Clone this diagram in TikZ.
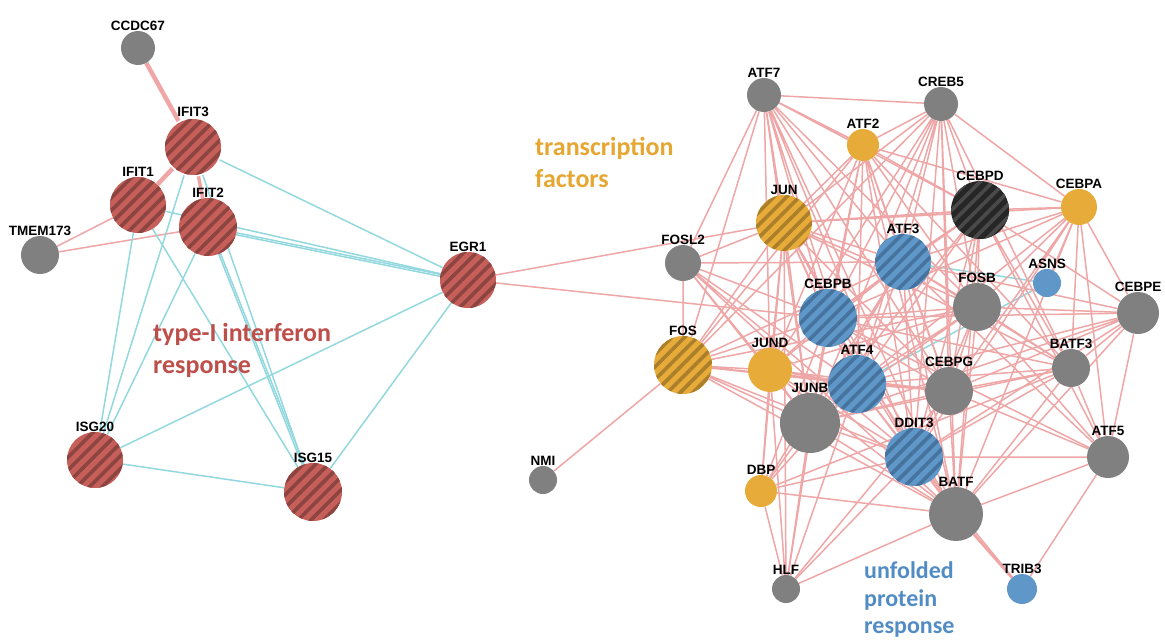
\documentclass[tikz,border=0pt]{standalone}
\usepackage{fontspec}
\setmainfont{Liberation Sans}
\newfontfamily\catfont{Carlito}
\usetikzlibrary{patterns.meta,backgrounds}

\definecolor{ifnred}{RGB}{198,95,90}
\definecolor{ifnstripe}{RGB}{140,68,65}
\definecolor{tfgold}{RGB}{231,171,57}
\definecolor{tfstripe}{RGB}{170,126,42}
\definecolor{uprblue}{RGB}{95,151,200}
\definecolor{uprstripe}{RGB}{70,115,158}
\definecolor{darkgene}{RGB}{38,38,38}
\definecolor{darkstripe}{RGB}{74,74,74}
\definecolor{genegray}{RGB}{128,128,128}
\definecolor{edgepink}{RGB}{238,166,166}
\definecolor{edgecyan}{RGB}{146,216,222}
\definecolor{txtred}{RGB}{190,78,74}
\definecolor{txtgold}{RGB}{230,166,50}
\definecolor{txtblue}{RGB}{82,140,196}

\tikzset{
  gene/.style={circle,inner sep=0pt,minimum size=#1,label distance=7pt},
  plain/.style={fill=#1},
  hatch/.style 2 args={preaction={fill=#1},pattern={Lines[angle=45,distance=9pt,line width=3.6pt]},pattern color=#2},
  every label/.style={font=\bfseries\fontsize{13.5}{15}\selectfont,inner sep=0pt,text=black},
  pinkedge/.style={draw=edgepink,line width=1.5pt},
  cyanedge/.style={draw=edgecyan,line width=1.5pt},
  cattxt/.style={font=\catfont\bfseries\fontsize{26}{32}\selectfont,inner sep=0pt,anchor=base west}
}

\begin{document}
\begin{tikzpicture}[x=1pt,y=-1pt]
\path[use as bounding box] (0,0) rectangle (1165,640);
% interferon cluster
\node[gene=34pt,plain=genegray,label=above:CCDC67] (ccdc67) at (138,48) {};
\node[gene=56pt,hatch={ifnred}{ifnstripe},label=above:IFIT3] (ifit3) at (193,147) {};
\node[gene=56pt,hatch={ifnred}{ifnstripe},label=above:IFIT1] (ifit1) at (138,205) {};
\node[gene=58pt,hatch={ifnred}{ifnstripe},label=above:IFIT2] (ifit2) at (208,227) {};
\node[gene=38pt,plain=genegray,label=above:TMEM173] (tmem173) at (40,255) {};
\node[gene=56pt,hatch={ifnred}{ifnstripe},label=above:ISG20] (isg20) at (95,460) {};
\node[gene=58pt,hatch={ifnred}{ifnstripe},label=above:ISG15] (isg15) at (313,492) {};
\node[gene=56pt,hatch={ifnred}{ifnstripe},label=above:EGR1] (egr1) at (468,280) {};
% transcription factor cluster
\node[gene=34pt,plain=genegray,label=above:ATF7] (atf7) at (764,95) {};
\node[gene=34pt,plain=genegray,label=above:CREB5] (creb5) at (941,104) {};
\node[gene=32pt,plain=tfgold,label=above:ATF2] (atf2) at (863,145) {};
\node[gene=56pt,hatch={tfgold}{tfstripe},label=above:JUN] (jun) at (784,223) {};
\node[gene=58pt,hatch={darkgene}{darkstripe},label=above:CEBPD] (cebpd) at (980,210) {};
\node[gene=36pt,plain=tfgold,label=above:CEBPA] (cebpa) at (1079,207) {};
\node[gene=36pt,plain=genegray,label=above:FOSL2] (fosl2) at (683,263) {};
\node[gene=56pt,hatch={uprblue}{uprstripe},label=above:ATF3] (atf3) at (903,262) {};
\node[gene=28pt,plain=uprblue,label=above:ASNS] (asns) at (1047,283) {};
\node[gene=48pt,plain=genegray,label=above:FOSB] (fosb) at (977,307) {};
\node[gene=58pt,hatch={uprblue}{uprstripe},label=above:CEBPB] (cebpb) at (828,318) {};
\node[gene=42pt,plain=genegray,label=above:CEBPE] (cebpe) at (1138,313) {};
\node[gene=58pt,hatch={tfgold}{tfstripe},label=above:FOS] (fos) at (683,365) {};
\node[gene=44pt,plain=tfgold,label=above:JUND] (jund) at (770,370) {};
\node[gene=38pt,plain=genegray,label=above:BATF3] (batf3) at (1071,368) {};
\node[gene=48pt,plain=genegray,label=above:CEBPG] (cebpg) at (949,391) {};
\node[gene=60pt,plain=genegray,label=above:JUNB] (junb) at (810,423) {};
\node[gene=58pt,hatch={uprblue}{uprstripe},label=above:ATF4] (atf4) at (857,384) {};
\node[gene=58pt,hatch={uprblue}{uprstripe},label=above:DDIT3] (ddit3) at (914,457) {};
\node[gene=42pt,plain=genegray,label=above:ATF5] (atf5) at (1108,457) {};
\node[gene=32pt,plain=tfgold,label=above:DBP] (dbp) at (761,491) {};
\node[gene=54pt,plain=genegray,label=above:BATF] (batf) at (956,514) {};
\node[gene=28pt,plain=genegray,label=above:NMI] (nmi) at (543,480) {};
\node[gene=28pt,plain=genegray,label=above:HLF] (hlf) at (786,589) {};
\node[gene=30pt,plain=uprblue,label=above:TRIB3] (trib3) at (1022,589) {};
% group names
\node[cattxt,text=txtred] (ifntxt1) at (153,341) {type-I interferon};
\node[cattxt,text=txtred] (ifntxt2) at (153,373) {response};
\node[cattxt,text=txtgold] (tftxt1) at (535,155) {transcription};
\node[cattxt,text=txtgold] (tftxt2) at (535,187) {factors};
\node[cattxt,text=txtblue,font=\catfont\bfseries\fontsize{24}{29}\selectfont] (uprtxt1) at (864,578) {unfolded};
\node[cattxt,text=txtblue,font=\catfont\bfseries\fontsize{24}{29}\selectfont] (uprtxt2) at (864,606) {protein};
\node[cattxt,text=txtblue,font=\catfont\bfseries\fontsize{24}{29}\selectfont] (uprtxt3) at (864,633) {response};
\begin{scope}[on background layer]
\draw[pinkedge,line width=4.5pt] (ccdc67) -- (ifit3) (ifit3) -- (ifit1);
\draw[pinkedge,line width=3.5pt] (ifit3) -- (ifit2);
\draw[pinkedge] (tmem173) -- (ifit1) (tmem173) -- (ifit2);
\draw[cyanedge] (ifit3) -- (egr1) (ifit3) -- (isg20) (ifit3) -- (isg15);
\draw[cyanedge] (ifit1) -- (egr1) (ifit1) -- (isg20) (ifit1) -- (isg15);
\draw[cyanedge] (ifit2) -- (egr1) (ifit2) -- (isg20) (ifit2) -- (isg15);
\draw[cyanedge] ([yshift=-2pt]ifit2.center) -- ([yshift=-2pt]egr1.center) ([xshift=2pt]ifit2.center) -- ([xshift=2pt]isg15.center);
\draw[cyanedge] (isg20) -- (egr1) (isg20) -- (isg15) (isg15) -- (egr1);
\draw[pinkedge] (egr1) -- (jun) (egr1) -- (cebpb);
\draw[cyanedge] (atf3) -- (asns) (atf4) -- (asns);
\draw[pinkedge] (atf7) -- (creb5) (atf7) -- (atf2) (atf7) -- (jun) (atf7) -- (fosl2) (atf7) -- (fos) (atf7) -- (cebpb) (atf7) -- (atf3) (atf7) -- (atf4) (atf7) -- (junb) (atf7) -- (jund) (atf7) -- (ddit3) (atf7) -- (cebpg) (atf7) -- (batf) (atf7) -- (fosb) (atf7) -- (cebpd);
\draw[pinkedge] (creb5) -- (atf2) (creb5) -- (jun) (creb5) -- (cebpa) (creb5) -- (cebpd) (creb5) -- (atf3) (creb5) -- (fosb) (creb5) -- (cebpb) (creb5) -- (atf4) (creb5) -- (cebpg) (creb5) -- (ddit3) (creb5) -- (batf3) (creb5) -- (junb) (creb5) -- (jund) (creb5) -- (fos) (creb5) -- (batf);
\draw[pinkedge] (atf2) -- (jun) (atf2) -- (atf3) (atf2) -- (cebpb) (atf2) -- (atf4) (atf2) -- (ddit3) (atf2) -- (fosb) (atf2) -- (cebpg) (atf2) -- (cebpa) (atf2) -- (junb) (atf2) -- (jund) (atf2) -- (fos) (atf2) -- (batf) (atf2) -- (cebpd) (atf2) -- (batf3);
\draw[pinkedge] (jun) -- (fosl2) (jun) -- (fos) (jun) -- (jund) (jun) -- (cebpb) (jun) -- (atf3) (jun) -- (atf4) (jun) -- (junb) (jun) -- (ddit3) (jun) -- (cebpg) (jun) -- (fosb) (jun) -- (cebpd) (jun) -- (cebpa) (jun) -- (batf) (jun) -- (batf3) (jun) -- (dbp) (jun) -- (hlf);
\draw[pinkedge] (cebpd) -- (cebpa) (cebpd) -- (atf3) (cebpd) -- (fosb) (cebpd) -- (cebpb) (cebpd) -- (atf4) (cebpd) -- (cebpg) (cebpd) -- (ddit3) (cebpd) -- (batf3) (cebpd) -- (cebpe) (cebpd) -- (atf5) (cebpd) -- (junb) (cebpd) -- (batf);
\draw[pinkedge] (cebpa) -- (atf3) (cebpa) -- (fosb) (cebpa) -- (asns) (cebpa) -- (cebpe) (cebpa) -- (batf3) (cebpa) -- (atf5) (cebpa) -- (cebpg) (cebpa) -- (ddit3) (cebpa) -- (cebpb) (cebpa) -- (atf4) (cebpa) -- (batf);
\draw[pinkedge] (fosl2) -- (fos) (fosl2) -- (jund) (fosl2) -- (junb) (fosl2) -- (cebpb) (fosl2) -- (atf3) (fosl2) -- (atf4) (fosl2) -- (ddit3) (fosl2) -- (batf);
\draw[pinkedge] (atf3) -- (fosb) (atf3) -- (cebpb) (atf3) -- (atf4) (atf3) -- (junb) (atf3) -- (ddit3) (atf3) -- (cebpg) (atf3) -- (batf3) (atf3) -- (cebpe) (atf3) -- (atf5) (atf3) -- (jund) (atf3) -- (fos) (atf3) -- (batf) (atf3) -- (dbp);
\draw[pinkedge] (fosb) -- (cebpb) (fosb) -- (atf4) (fosb) -- (junb) (fosb) -- (ddit3) (fosb) -- (cebpg) (fosb) -- (batf3) (fosb) -- (cebpe) (fosb) -- (batf) (fosb) -- (jund) (fosb) -- (fos) (fosb) -- (atf5);
\draw[pinkedge] (cebpb) -- (atf4) (cebpb) -- (junb) (cebpb) -- (ddit3) (cebpb) -- (cebpg) (cebpb) -- (batf3) (cebpb) -- (cebpe) (cebpb) -- (jund) (cebpb) -- (fos) (cebpb) -- (batf) (cebpb) -- (dbp) (cebpb) -- (hlf) (cebpb) -- (atf5);
\draw[pinkedge] (cebpe) -- (batf3) (cebpe) -- (cebpg) (cebpe) -- (atf4) (cebpe) -- (ddit3) (cebpe) -- (batf) (cebpe) -- (atf5) (cebpe) -- (junb);
\draw[pinkedge] (fos) -- (jund) (fos) -- (junb) (fos) -- (atf4) (fos) -- (ddit3) (fos) -- (batf) (fos) -- (nmi) (fos) -- (cebpg);
\draw[pinkedge] (jund) -- (junb) (jund) -- (atf4) (jund) -- (ddit3) (jund) -- (batf) (jund) -- (dbp) (jund) -- (hlf) (jund) -- (cebpg);
\draw[pinkedge] (atf4) -- (junb) (atf4) -- (ddit3) (atf4) -- (cebpg) (atf4) -- (batf3) (atf4) -- (batf) (atf4) -- (hlf) (atf4) -- (dbp);
\draw[pinkedge] (cebpg) -- (ddit3) (cebpg) -- (batf3) (cebpg) -- (batf) (cebpg) -- (atf5) (cebpg) -- (junb) (cebpg) -- (hlf);
\draw[pinkedge] (batf3) -- (ddit3) (batf3) -- (batf) (batf3) -- (atf5) (batf3) -- (junb) (batf3) -- (dbp);
\draw[pinkedge] (junb) -- (ddit3) (junb) -- (batf) (junb) -- (dbp) (junb) -- (hlf);
\draw[pinkedge] (ddit3) -- (batf) (ddit3) -- (dbp) (ddit3) -- (hlf) (ddit3) -- (atf5);
\draw[pinkedge] (atf5) -- (batf) (atf5) -- (trib3) (dbp) -- (hlf) (dbp) -- (batf) (hlf) -- (batf);
\draw[pinkedge,line width=2.8pt] (batf) -- (trib3);
\draw[pinkedge] (ddit3) -- (trib3);
\end{scope}
\end{tikzpicture}
\end{document}
